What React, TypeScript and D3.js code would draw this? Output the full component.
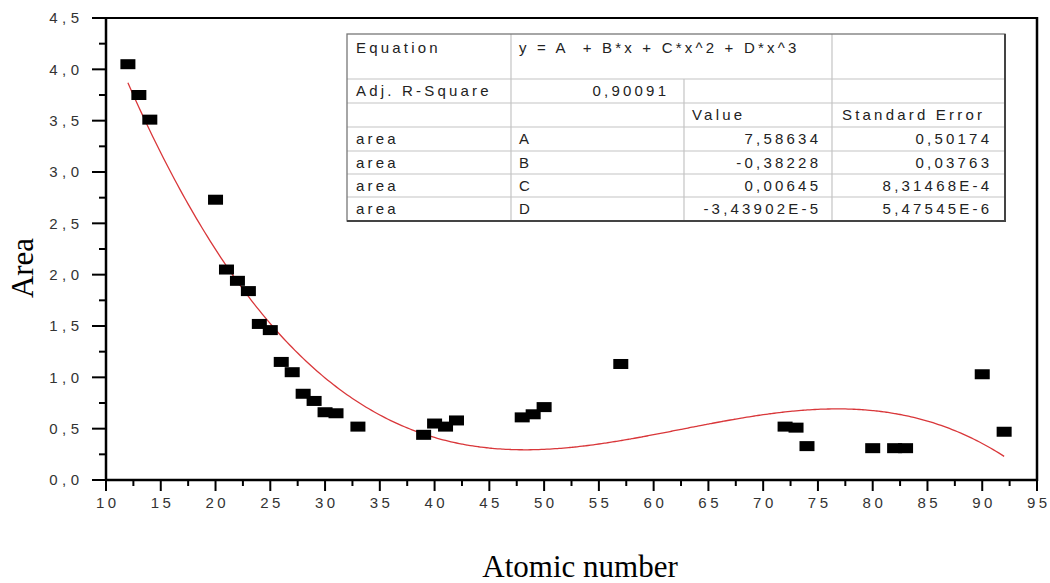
import React from "react";
import * as d3 from "d3";

// ---- data ----
const atomicNumbers = [12, 13, 14, 20, 21, 22, 23, 24, 25, 26, 27, 28, 29, 30, 31, 33, 39, 40, 41, 42, 48, 49, 50, 57, 72, 73, 74, 80, 82, 83, 90, 92];
const areas = [4.05, 3.75, 3.51, 2.73, 2.05, 1.94, 1.84, 1.52, 1.46, 1.15, 1.05, 0.84, 0.77, 0.66, 0.65, 0.52, 0.44, 0.55, 0.52, 0.58, 0.61, 0.64, 0.71, 1.13, 0.52, 0.51, 0.33, 0.31, 0.31, 0.31, 1.03, 0.47];

// fitted cubic y = A + B*x + C*x^2 + D*x^3 (coefficients from the table)
const fitCoefficients = [7.58634, -0.38228, 0.00645, -3.43902e-5];
const fitRange = [12, 92];

const xTicks = [10, 15, 20, 25, 30, 35, 40, 45, 50, 55, 60, 65, 70, 75, 80, 85, 90, 95];
const yTicks = [0, 0.5, 1, 1.5, 2, 2.5, 3, 3.5, 4, 4.5];
const yTickLabels = ["0,0", "0,5", "1,0", "1,5", "2,0", "2,5", "3,0", "3,5", "4,0", "4,5"];

const tableRow1 = ["Equation", "y = A  + B*x + C*x^2 + D*x^3", "", ""];
const tableRow2 = ["Adj. R-Square", "0,90091", "", ""];
const tableHeader = ["", "", "Value", "Standard Error"];
const tableLabels = ["area", "area", "area", "area"];
const tableParams = ["A", "B", "C", "D"];
const tableValues = ["7,58634", "-0,38228", "0,00645", "-3,43902E-5"];
const tableErrors = ["0,50174", "0,03763", "8,31468E-4", "5,47545E-6"];

const W = 1050;
const H = 583;

export default function App() {
  const x = d3.scaleLinear().domain([10, 95]).range([106, 1037]);
  const y = d3.scaleLinear().domain([0, 4.5]).range([480, 18]);

  const [A, B, C, D] = fitCoefficients;
  const fitX = d3.range(fitRange[0], fitRange[1] + 0.001, 0.25);
  const fitPts: [number, number][] = fitX.map((v) => [v, A + B * v + C * v * v + D * v * v * v]);
  const line = d3
    .line<[number, number]>()
    .x((d) => x(d[0]))
    .y((d) => y(d[1]))
    .curve(d3.curveMonotoneX);

  const xMinor = xTicks.slice(0, -1).map((t) => t + 2.5);
  const yMinor = yTicks.slice(0, -1).map((t) => t + 0.25);

  const sans = "'Liberation Sans', Arial, sans-serif";
  const serif = "'Liberation Serif', 'Times New Roman', serif";
  const xls = 3.5;
  const yls = 4.5;

  // table geometry
  const cols = [347, 511, 684, 832, 1005];
  const rows = [34, 79, 103, 127, 151, 174, 197, 221];
  const tls = 3.2;
  const tfs = 15;
  const tColor = "#222";
  const bodyRows = tableLabels.map((l, i) => [l, tableParams[i], tableValues[i], tableErrors[i]]);

  const rowMid = (i: number) => (rows[i] + rows[i + 1]) / 2;

  return (
    <svg width={W} height={H} style={{ position: "absolute", left: 0, top: 0, background: "#fff" }}>
      <rect x={0} y={0} width={W} height={H} fill="#fff" />

      {/* fit curve */}
      <path d={line(fitPts) || ""} fill="none" stroke="#d9373a" strokeWidth={1.3} />

      {/* points */}
      {atomicNumbers.map((a, i) => (
        <rect key={i} x={x(a) - 7.5} y={y(areas[i]) - 5} width={15} height={10} fill="#000" />
      ))}

      {/* frame */}
      <line x1={x(10)} y1={y(4.5)} x2={x(95)} y2={y(4.5)} stroke="#000" strokeWidth={2} />
      <line x1={x(95)} y1={y(4.5) - 1} x2={x(95)} y2={y(0) + 1} stroke="#000" strokeWidth={2.5} />
      <line x1={x(10)} y1={y(4.5) - 1} x2={x(10)} y2={y(0) + 1} stroke="#000" strokeWidth={2.5} />
      <line x1={x(10) - 1} y1={y(0)} x2={x(95) + 1} y2={y(0)} stroke="#000" strokeWidth={2.5} />

      {/* y ticks */}
      {yTicks.map((t) => (
        <line key={"ym" + t} x1={x(10) - 14} x2={x(10)} y1={y(t)} y2={y(t)} stroke="#000" strokeWidth={2} />
      ))}
      {yMinor.map((t) => (
        <line key={"yn" + t} x1={x(10) - 7} x2={x(10)} y1={y(t)} y2={y(t)} stroke="#000" strokeWidth={2} />
      ))}
      {yTicks.map((t, i) => (
        <text
          key={"yl" + t}
          x={79 + yls}
          y={y(t)}
          dy="0.36em"
          textAnchor="end"
          fontFamily={sans}
          fontSize={15}
          letterSpacing={yls}
          fill="#333"
        >
          {yTickLabels[i]}
        </text>
      ))}

      {/* x ticks */}
      {xTicks.map((t) => (
        <line key={"xm" + t} x1={x(t)} x2={x(t)} y1={y(0)} y2={y(0) + 11} stroke="#000" strokeWidth={2} />
      ))}
      {xMinor.map((t) => (
        <line key={"xn" + t} x1={x(t)} x2={x(t)} y1={y(0)} y2={y(0) + 6} stroke="#000" strokeWidth={2} />
      ))}
      {xTicks.map((t) => (
        <text
          key={"xl" + t}
          x={x(t) + xls / 2}
          y={508}
          textAnchor="middle"
          fontFamily={sans}
          fontSize={15}
          letterSpacing={xls}
          fill="#333"
        >
          {String(t)}
        </text>
      ))}

      {/* axis titles */}
      <text
        transform={`translate(33,268) rotate(-90)`}
        textAnchor="middle"
        fontFamily={serif}
        fontSize={31}
        fill="#000"
      >
        Area
      </text>
      <text x={580} y={577} textAnchor="middle" fontFamily={serif} fontSize={31} fill="#000">
        Atomic number
      </text>

      {/* table */}
      <g>
        <rect x={cols[0]} y={rows[0]} width={cols[4] - cols[0]} height={rows[7] - rows[0]} fill="#fff" />
        {rows.slice(1, -1).map((r, i) => (
          <line key={"tr" + i} x1={cols[0]} x2={cols[4]} y1={r} y2={r} stroke="#c4c4c4" strokeWidth={1.2} />
        ))}
        <line x1={cols[1]} x2={cols[1]} y1={rows[0]} y2={rows[7]} stroke="#c4c4c4" strokeWidth={1.2} />
        <line x1={cols[2]} x2={cols[2]} y1={rows[1]} y2={rows[7]} stroke="#c4c4c4" strokeWidth={1.2} />
        <line x1={cols[3]} x2={cols[3]} y1={rows[0]} y2={rows[7]} stroke="#c4c4c4" strokeWidth={1.2} />
        <rect
          x={cols[0]}
          y={rows[0]}
          width={cols[4] - cols[0]}
          height={rows[7] - rows[0]}
          fill="none"
          stroke="#777"
          strokeWidth={1.3}
        />
        <line x1={cols[4]} x2={cols[4]} y1={rows[0]} y2={rows[7] + 1} stroke="#444" strokeWidth={2} />
        <line x1={cols[0]} x2={cols[4] + 1} y1={rows[7]} y2={rows[7]} stroke="#444" strokeWidth={2} />

        <g fontFamily={sans} fontSize={tfs} letterSpacing={tls} fill={tColor}>
          <text x={cols[0] + 9} y={rows[0] + 19}>{tableRow1[0]}</text>
          <text x={cols[1] + 8} y={rows[0] + 19} style={{ whiteSpace: "pre" }}>
            {tableRow1[1]}
          </text>
          <text x={cols[0] + 9} y={rowMid(1)} dy="0.36em">{tableRow2[0]}</text>
          <text x={cols[2] - 18 + tls} y={rowMid(1)} dy="0.36em" textAnchor="end">
            {tableRow2[1]}
          </text>
          <text x={cols[2] + 8} y={rowMid(2)} dy="0.36em">{tableHeader[2]}</text>
          <text x={cols[3] + 10} y={rowMid(2)} dy="0.36em">{tableHeader[3]}</text>
          {bodyRows.map((r, i) => (
            <g key={"br" + i}>
              <text x={cols[0] + 9} y={rowMid(3 + i)} dy="0.36em">{r[0]}</text>
              <text x={cols[1] + 8} y={rowMid(3 + i)} dy="0.36em">{r[1]}</text>
              <text x={cols[3] - 14 + tls} y={rowMid(3 + i)} dy="0.36em" textAnchor="end">{r[2]}</text>
              <text x={cols[4] - 16 + tls} y={rowMid(3 + i)} dy="0.36em" textAnchor="end">{r[3]}</text>
            </g>
          ))}
        </g>
      </g>
    </svg>
  );
}
